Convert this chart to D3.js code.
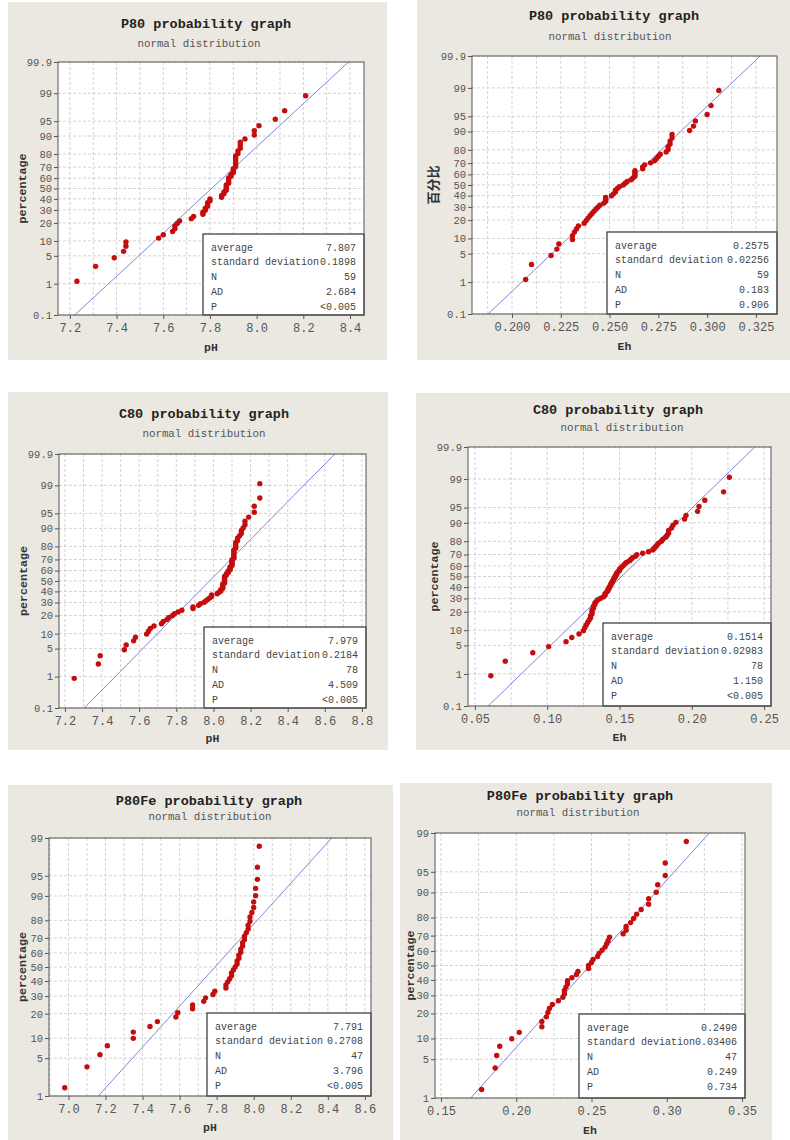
<!DOCTYPE html>
<html><head><meta charset="utf-8">
<script src="https://cdn.jsdelivr.net/npm/d3@7"></script>
<style>
html,body{margin:0;padding:0;background:#fff;}
svg text{font-family:"Liberation Mono","DejaVu Sans Mono",monospace;}
</style></head><body>
<svg id="chart" width="790" height="1140"></svg>
<script>
const p80pH = [7.23,7.31,7.39,7.43,7.44,7.44,7.58,7.60,7.64,7.65,7.65,7.66,7.67,7.72,7.73,7.77,7.77,7.78,7.78,7.79,7.79,7.79,7.80,7.80,7.85,7.85,7.86,7.86,7.87,7.87,7.87,7.87,7.88,7.88,7.88,7.88,7.89,7.89,7.90,7.90,7.90,7.91,7.91,7.91,7.91,7.91,7.91,7.92,7.92,7.93,7.93,7.93,7.95,7.99,7.99,8.01,8.08,8.12,8.21];
const p80Eh = [0.207,0.210,0.220,0.223,0.224,0.231,0.231,0.232,0.233,0.234,0.237,0.238,0.239,0.240,0.241,0.242,0.243,0.244,0.245,0.247,0.248,0.248,0.248,0.251,0.252,0.253,0.253,0.254,0.255,0.257,0.258,0.259,0.261,0.262,0.263,0.263,0.263,0.263,0.267,0.267,0.268,0.271,0.273,0.274,0.275,0.276,0.279,0.280,0.280,0.281,0.281,0.282,0.282,0.291,0.293,0.294,0.300,0.302,0.306];
const c80pH = [7.25,7.38,7.39,7.52,7.53,7.57,7.58,7.64,7.65,7.66,7.68,7.72,7.73,7.75,7.76,7.78,7.79,7.81,7.83,7.89,7.89,7.92,7.93,7.95,7.96,7.97,7.98,7.99,7.99,
  8.02,8.03,8.04,8.04,8.05,8.05,8.05,8.05,8.06,8.06,8.06,8.06,8.06,8.06,8.07,8.07,8.08,8.08,8.09,8.09,8.09,8.10,8.10,8.10,8.10,8.10,8.11,8.11,8.11,8.11,8.11,8.11,8.12,8.12,8.12,8.12,8.13,8.13,8.14,8.15,8.15,8.16,8.17,8.17,8.19,8.22,8.22,8.25,8.25];
const c80Eh = [0.061,0.071,0.090,0.101,0.113,0.117,0.122,
  0.125,0.126,0.127,0.128,0.129,0.130,0.130,0.131,0.131,0.131,0.132,0.132,0.133,0.133,0.134,
  0.135,0.137,0.139,0.140,0.140,0.141,0.142,0.142,0.143,0.143,0.144,0.144,0.145,0.145,
  0.146,0.146,0.147,0.147,0.148,0.148,0.149,0.150,0.150,0.151,0.152,0.153,
  0.154,0.155,0.157,0.158,0.159,0.161,0.162,
  0.166,0.170,0.173,0.174,0.175,0.176,0.177,0.179,0.180,0.182,0.183,0.184,0.184,0.186,0.187,0.189,
  0.195,0.196,0.204,0.205,0.209,0.222,0.226];
const p80FepH = [6.98,7.10,7.17,7.21,7.35,7.35,7.44,7.48,7.58,7.59,7.67,7.67,7.73,7.74,7.78,7.79,7.85,7.85,7.86,7.87,7.88,7.88,7.89,7.90,7.91,7.91,7.92,7.92,7.93,7.93,7.94,7.94,7.95,7.95,7.96,7.97,7.97,7.98,7.98,7.99,8.00,8.00,8.01,8.01,8.02,8.02,8.03];
const p80FeEh = [0.177,0.186,0.187,0.189,0.197,0.202,0.217,0.217,0.220,0.221,0.222,0.224,0.228,0.231,0.232,0.232,0.233,0.234,0.234,0.237,0.240,0.241,0.248,0.248,0.250,0.251,0.254,0.255,0.257,0.259,0.260,0.261,0.262,0.271,0.273,0.273,0.276,0.278,0.280,0.283,0.288,0.288,0.293,0.294,0.299,0.299,0.313];

// summary statistics (as printed)
const statLabels = ["average","standard deviation","N","AD","P"];
const statsP80pH   = ["7.807","0.1898","59","2.684","<0.005"];
const statsP80Eh   = ["0.2575","0.02256","59","0.183","0.906"];
const statsC80pH   = ["7.979","0.2184","78","4.509","<0.005"];
const statsC80Eh   = ["0.1514","0.02983","78","1.150","<0.005"];
const statsP80FepH = ["7.791","0.2708","47","3.796","<0.005"];
const statsP80FeEh = ["0.2490","0.03406","47","0.249","0.734"];

// tick values
const xTicksP80pH   = [7.2,7.4,7.6,7.8,8.0,8.2,8.4];
const xTicksP80Eh   = [0.200,0.225,0.250,0.275,0.300,0.325];
const xTicksC80pH   = [7.2,7.4,7.6,7.8,8.0,8.2,8.4,8.6,8.8];
const xTicksC80Eh   = [0.05,0.10,0.15,0.20,0.25];
const xTicksP80FepH = [7.0,7.2,7.4,7.6,7.8,8.0,8.2,8.4,8.6];
const xTicksP80FeEh = [0.15,0.20,0.25,0.30,0.35];
const yTicksWide   = [0.1,1,5,10,20,30,40,50,60,70,80,90,95,99,99.9];
const yTicksNarrow = [1,5,10,20,30,40,50,60,70,80,90,95,99];

const titles = ["P80 probability graph","P80 probability graph","C80 probability graph","C80 probability graph","P80Fe probability graph","P80Fe probability graph"];
const subtitle = "normal distribution";

// ---------------- helpers ----------------
function probit(p){
  const a=[-3.969683028665376e+01,2.209460984245205e+02,-2.759285104469687e+02,1.383577518672690e+02,-3.066479806614716e+01,2.506628277459239e+00];
  const b=[-5.447609879822406e+01,1.615858368580409e+02,-1.556989798598866e+02,6.680131188771972e+01,-1.328068155288572e+01];
  const c=[-7.784894002430293e-03,-3.223964580411365e-01,-2.400758277161838e+00,-2.549732539343734e+00,4.374664141464968e+00,2.938163982698783e+00];
  const d=[7.784695709041462e-03,3.224671290700398e-01,2.445134137142996e+00,3.754408661907416e+00];
  const pl=0.02425, ph=1-pl; let q,r;
  if(p<pl){q=Math.sqrt(-2*Math.log(p));return (((((c[0]*q+c[1])*q+c[2])*q+c[3])*q+c[4])*q+c[5])/((((d[0]*q+d[1])*q+d[2])*q+d[3])*q+1);}
  if(p<=ph){q=p-0.5;r=q*q;return (((((a[0]*r+a[1])*r+a[2])*r+a[3])*r+a[4])*r+a[5])*q/(((((b[0]*r+b[1])*r+b[2])*r+b[3])*r+b[4])*r+1);}
  q=Math.sqrt(-2*Math.log(1-p));return -(((((c[0]*q+c[1])*q+c[2])*q+c[3])*q+c[4])*q+c[5])/((((d[0]*q+d[1])*q+d[2])*q+d[3])*q+1);
}

// ---------------- layout ----------------
const panels = [
  {data:p80pH, stats:statsP80pH, title:titles[0], xLabel:"pH", yLabel:"percentage",
   bg:[8,2,387,360], plot:[58,62,364,315], xDomain:[7.149,8.46], xTicks:xTicksP80pH, fmt:".1f", gridStep:0.1,
   yTicks:yTicksWide, pRange:[0.001,0.999], titleXY:[206,28], subXY:[199,47], xLabY:351, yLabX:22, legendLeft:203, legendTop:234},
  {data:p80Eh, stats:statsP80Eh, title:titles[1], xLabel:"Eh", yLabel:"百分比",
   bg:[417,0,790,360], plot:[472,56,777,314], xDomain:[0.1795,0.3358], xTicks:xTicksP80Eh, fmt:".3f", gridStep:0.0125,
   yTicks:yTicksWide, pRange:[0.001,0.999], titleXY:[614,20], subXY:[610,40], xLabY:350, yLabX:433, legendLeft:607, legendTop:232},
  {data:c80pH, stats:statsC80pH, title:titles[2], xLabel:"pH", yLabel:"percentage",
   bg:[8,392,388,750], plot:[59,454,366,708], xDomain:[7.168,8.822], xTicks:xTicksC80pH, fmt:".1f", gridStep:0.1,
   yTicks:yTicksWide, pRange:[0.001,0.999], titleXY:[204,418], subXY:[204,437], xLabY:742, yLabX:23, legendLeft:204, legendTop:627},
  {data:c80Eh, stats:statsC80Eh, title:titles[3], xLabel:"Eh", yLabel:"percentage",
   bg:[416,393,790,750], plot:[468,447,771,706], xDomain:[0.0452,0.2548], xTicks:xTicksC80Eh, fmt:".2f", gridStep:0.025,
   yTicks:yTicksWide, pRange:[0.001,0.999], titleXY:[618,414], subXY:[622,431], xLabY:741, yLabX:434, legendLeft:603, legendTop:623},
  {data:p80FepH, stats:statsP80FepH, title:titles[4], xLabel:"pH", yLabel:"percentage",
   bg:[8,785,393,1140], plot:[49,838,371,1096], xDomain:[6.895,8.633], xTicks:xTicksP80FepH, fmt:".1f", gridStep:0.1,
   yTicks:yTicksNarrow, pRange:[0.01,0.99], titleXY:[209,805], subXY:[210,820], xLabY:1131, yLabX:22, legendLeft:207, legendTop:1013},
  {data:p80FeEh, stats:statsP80FeEh, title:titles[5], xLabel:"Eh", yLabel:"percentage",
   bg:[400,783,772,1140], plot:[435,833,745,1098], xDomain:[0.146,0.352], xTicks:xTicksP80FeEh, fmt:".2f", gridStep:0.025,
   yTicks:yTicksNarrow, pRange:[0.01,0.99], titleXY:[580,800], subXY:[578,816], xLabY:1134, yLabX:410, legendLeft:579, legendTop:1014}
];

const svg = d3.select("#chart");

panels.forEach((P, idx) => {
  const [l,t,r,b] = P.plot;
  const g = svg.append("g");
  g.append("rect").attr("x",P.bg[0]).attr("y",P.bg[1]).attr("width",P.bg[2]-P.bg[0]).attr("height",P.bg[3]-P.bg[1]).attr("fill","#ebe8e1");
  g.append("rect").attr("x",l).attr("y",t).attr("width",r-l).attr("height",b-t).attr("fill","#fff");

  const x = d3.scaleLinear().domain(P.xDomain).range([l,r]);
  const zMin = probit(P.pRange[0]), zMax = probit(P.pRange[1]);
  const y = d3.scaleLinear().domain([zMin,zMax]).range([b,t]);

  const clipId = "clip"+idx;
  g.append("clipPath").attr("id",clipId).append("rect").attr("x",l).attr("y",t).attr("width",r-l).attr("height",b-t);

  // grid
  const gx = d3.range(Math.ceil(P.xDomain[0]/P.gridStep - 1e-6), Math.floor(P.xDomain[1]/P.gridStep + 1e-6)+1).map(k=>k*P.gridStep);
  g.append("g").selectAll("line").data(gx).join("line")
    .attr("x1",d=>x(d)).attr("x2",d=>x(d)).attr("y1",t).attr("y2",b)
    .attr("stroke","#c8c8c8").attr("stroke-width",0.8).attr("stroke-dasharray","3,2");
  g.append("g").selectAll("line").data(P.yTicks).join("line")
    .attr("x1",l).attr("x2",r).attr("y1",d=>y(probit(d/100))).attr("y2",d=>y(probit(d/100)))
    .attr("stroke","#c8c8c8").attr("stroke-width",0.8).attr("stroke-dasharray","3,2");

  // fitted line
  const mean = +P.stats[0], sd = +P.stats[1];
  const zl = [zMin - 0.5, zMax + 0.5];
  g.append("line").attr("clip-path",`url(#${clipId})`)
    .attr("x1",x(mean+sd*zl[0])).attr("y1",y(zl[0]))
    .attr("x2",x(mean+sd*zl[1])).attr("y2",y(zl[1]))
    .attr("stroke","#8585d6").attr("stroke-width",1);

  // points (median-rank plotting positions)
  const n = P.data.length;
  g.append("g").selectAll("circle").data(P.data).join("circle")
    .attr("cx",d=>x(d)).attr("cy",(d,i)=>y(probit((i+1-0.3)/(n+0.4))))
    .attr("r",2.7).attr("fill","#c40d0d");

  // legend box
  const lw = r - P.legendLeft, lh = b - P.legendTop;
  g.append("rect").attr("x",P.legendLeft).attr("y",P.legendTop).attr("width",lw).attr("height",lh)
    .attr("fill","#fff").attr("stroke","#333").attr("stroke-width",1.2);
  statLabels.forEach((s,k)=>{
    const yy = P.legendTop + 13 + k*14.8;
    g.append("text").attr("x",P.legendLeft+8).attr("y",yy).attr("dy","0.35em")
      .attr("font-size","10px").attr("fill","#444").text(s);
    g.append("text").attr("x",r-8).attr("y",yy).attr("dy","0.35em").attr("text-anchor","end")
      .attr("font-size","10px").attr("fill","#444").text(P.stats[k]);
  });

  // frame
  g.append("rect").attr("x",l).attr("y",t).attr("width",r-l).attr("height",b-t)
    .attr("fill","none").attr("stroke","#555").attr("stroke-width",1);

  // axes
  const fmt = d3.format(P.fmt);
  const ax = g.append("g").attr("transform",`translate(0,${b})`)
    .call(d3.axisBottom(x).tickValues(P.xTicks).tickFormat(fmt).tickSize(4).tickPadding(4));
  ax.select(".domain").remove();
  ax.selectAll("line").attr("stroke","#555");
  ax.selectAll("text").attr("font-size","12px").attr("fill","#555").attr("font-family",null);

  const ay = g.append("g").attr("transform",`translate(${l},0)`)
    .call(d3.axisLeft(y).tickValues(P.yTicks.map(p=>probit(p/100))).tickFormat((d,i)=>String(P.yTicks[i])).tickSize(4).tickPadding(2));
  ay.select(".domain").remove();
  ay.selectAll("line").attr("stroke","#555");
  ay.selectAll("text").attr("font-size","10.5px").attr("fill","#555").attr("font-family",null);

  // titles
  g.append("text").attr("x",P.titleXY[0]).attr("y",P.titleXY[1]).attr("text-anchor","middle")
    .attr("font-size","13.5px").attr("font-weight","bold").attr("fill","#222").text(P.title);
  g.append("text").attr("x",P.subXY[0]).attr("y",P.subXY[1]).attr("text-anchor","middle")
    .attr("font-size","10.8px").attr("fill","#555").text(subtitle);
  g.append("text").attr("x",(l+r)/2).attr("y",P.xLabY).attr("text-anchor","middle")
    .attr("font-size","11.5px").attr("font-weight","bold").attr("fill","#333").text(P.xLabel);
  const yl = g.append("text").attr("transform",`translate(${P.yLabX},${(t+b)/2}) rotate(-90)`)
    .attr("text-anchor","middle").attr("dy","0.35em")
    .attr("font-size", P.yLabel==="百分比" ? "13px" : "11.7px").attr("font-weight","bold").attr("fill","#333").text(P.yLabel);
  if (P.yLabel==="百分比") yl.style("font-family","'Noto Sans CJK SC'");
});
</script>
</body></html>
